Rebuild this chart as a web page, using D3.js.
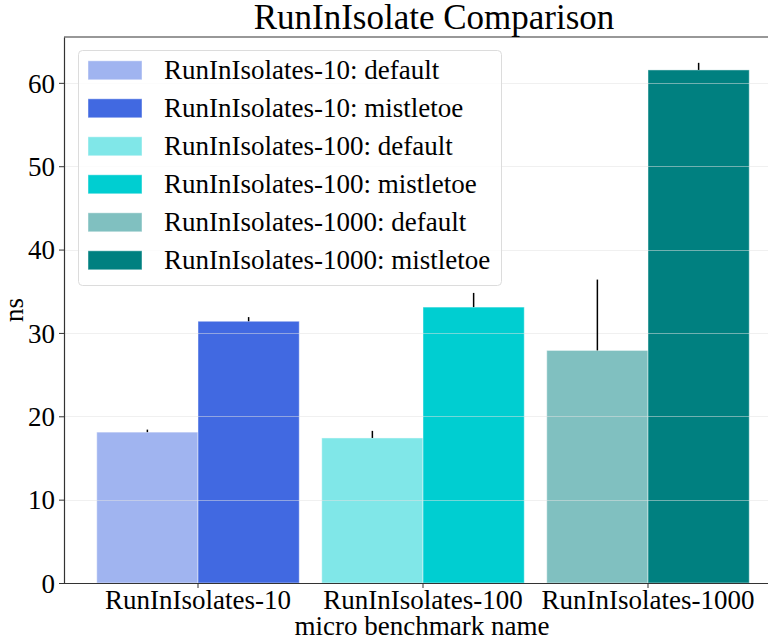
<!DOCTYPE html>
<html>
<head>
<meta charset="utf-8">
<script src="https://cdn.jsdelivr.net/npm/d3@7"></script>
<style>
  html, body { margin: 0; padding: 0; background: #fff; }
  svg { display: block; }
  text { font-family: "Liberation Serif", "DejaVu Serif", serif; fill: #000; }
</style>
</head>
<body>
<svg id="chart" width="768" height="642"></svg>
<script>
// ---- data ----
const categories = ["RunInIsolates-10", "RunInIsolates-100", "RunInIsolates-1000"];
const seriesNames = ["default", "mistletoe"];
const defaultValues = [18.1, 17.4, 27.9];
const defaultErrors = [0.3, 0.85, 8.5];
const mistletoeValues = [31.4, 33.1, 61.55];
const mistletoeErrors = [0.5, 1.7, 0.85];
const yTicks = [0, 10, 20, 30, 40, 50, 60];
const legendLabels = [
  "RunInIsolates-10: default", "RunInIsolates-10: mistletoe",
  "RunInIsolates-100: default", "RunInIsolates-100: mistletoe",
  "RunInIsolates-1000: default", "RunInIsolates-1000: mistletoe"
];
const baseColors = ["#4169e1", "#00ced1", "#008080"];

// ---- layout ----
const pLeft = 64, pRight = 782, pTop = 37, pBottom = 583;
const svg = d3.select("#chart");

const x = d3.scaleBand().domain(categories).range([pLeft + 21.5, pRight - 21.5]).padding(0);
const inner = d3.scaleBand().domain(seriesNames).range([-x.bandwidth() * 0.45, x.bandwidth() * 0.45]).padding(0);
const y = d3.scaleLinear().domain([0, 65.5]).range([pBottom, pTop]);

function fillFor(ci, si) {
  const c = d3.color(baseColors[ci]);
  if (si === 1) return c.formatHex();
  return d3.interpolateRgb(c, "#ffffff")(0.5);
}

const rows = [];
categories.forEach((cat, ci) => {
  rows.push({cat, ci, si: 0, v: defaultValues[ci], e: defaultErrors[ci]});
  rows.push({cat, ci, si: 1, v: mistletoeValues[ci], e: mistletoeErrors[ci]});
});

// bars
svg.append("g").selectAll("rect").data(rows).join("rect")
  .attr("x", d => x(d.cat) + x.bandwidth() / 2 + inner(seriesNames[d.si]))
  .attr("width", inner.bandwidth())
  .attr("y", d => y(d.v))
  .attr("height", d => y(0) - y(d.v))
  .attr("fill", d => fillFor(d.ci, d.si))
  .attr("stroke", "rgba(255,255,255,0.45)")
  .attr("stroke-width", 1);

// grid (drawn over bars)
svg.append("g").selectAll("line").data(yTicks.filter(t => t > 0)).join("line")
  .attr("x1", pLeft).attr("x2", pRight)
  .attr("y1", d => Math.round(y(d)) + 0.5).attr("y2", d => Math.round(y(d)) + 0.5)
  .attr("stroke", "rgba(225,225,225,0.5)")
  .attr("stroke-width", 1.2);

// error bars (upper part)
svg.append("g").selectAll("line").data(rows).join("line")
  .attr("x1", d => x(d.cat) + x.bandwidth() / 2 + inner(seriesNames[d.si]) + inner.bandwidth() / 2)
  .attr("x2", d => x(d.cat) + x.bandwidth() / 2 + inner(seriesNames[d.si]) + inner.bandwidth() / 2)
  .attr("y1", d => y(d.v))
  .attr("y2", d => y(d.v + d.e))
  .attr("stroke", "#000")
  .attr("stroke-width", 1.5);

// axes
const yAxis = d3.axisLeft(y).tickValues(yTicks).tickSize(5).tickPadding(4).tickSizeOuter(0);
const gy = svg.append("g").attr("transform", `translate(${pLeft},0)`).call(yAxis);
gy.selectAll("text").style("font-size", "27px").style("font-family", "Liberation Serif").attr("dy", "0.34em");
gy.select(".domain").attr("stroke", "#333").attr("stroke-width", 1.2);
gy.selectAll(".tick line").attr("stroke", "#333");

const gx = svg.append("g").attr("transform", `translate(0,${pBottom})`)
  .call(d3.axisBottom(x).tickSize(5).tickPadding(2).tickSizeOuter(0));
gx.select(".domain").attr("d", `M${pLeft},0.5H${pRight}`).attr("stroke", "#333").attr("stroke-width", 1.2);
gx.selectAll(".tick line").attr("stroke", "#333");
gx.selectAll("text").style("font-size", "27px").style("font-family", "Liberation Serif");

// top spine
svg.append("line").attr("x1", pLeft).attr("x2", pRight).attr("y1", pTop).attr("y2", pTop)
  .attr("stroke", "#333").attr("stroke-width", 1.2);

// titles
svg.append("text").attr("x", 434).attr("y", 29).attr("text-anchor", "middle")
  .style("font-size", "35px").text("RunInIsolate Comparison");
svg.append("text").attr("x", 422).attr("y", 635).attr("text-anchor", "middle")
  .style("font-size", "27px").text("micro benchmark name");
svg.append("text").attr("transform", `translate(23,${(pTop + pBottom) / 2}) rotate(-90)`)
  .attr("text-anchor", "middle").style("font-size", "27px").text("ns");

// legend
const lg = svg.append("g");
lg.append("rect").attr("x", 78.5).attr("y", 50.5).attr("width", 423).attr("height", 235)
  .attr("rx", 4).attr("fill", "rgba(255,255,255,0.8)").attr("stroke", "#dcdcdc").attr("stroke-width", 1);
legendLabels.forEach((lab, i) => {
  const ci = Math.floor(i / 2), si = i % 2;
  const cy = 70.3 + i * 38;
  lg.append("rect").attr("x", 88).attr("y", cy - 9.5).attr("width", 54).attr("height", 19)
    .attr("fill", fillFor(ci, si)).attr("stroke", "rgba(255,255,255,0.45)");
  lg.append("text").attr("x", 164).attr("y", cy).attr("dy", "0.34em")
    .style("font-size", "27px").text(lab);
});
</script>
</body>
</html>
